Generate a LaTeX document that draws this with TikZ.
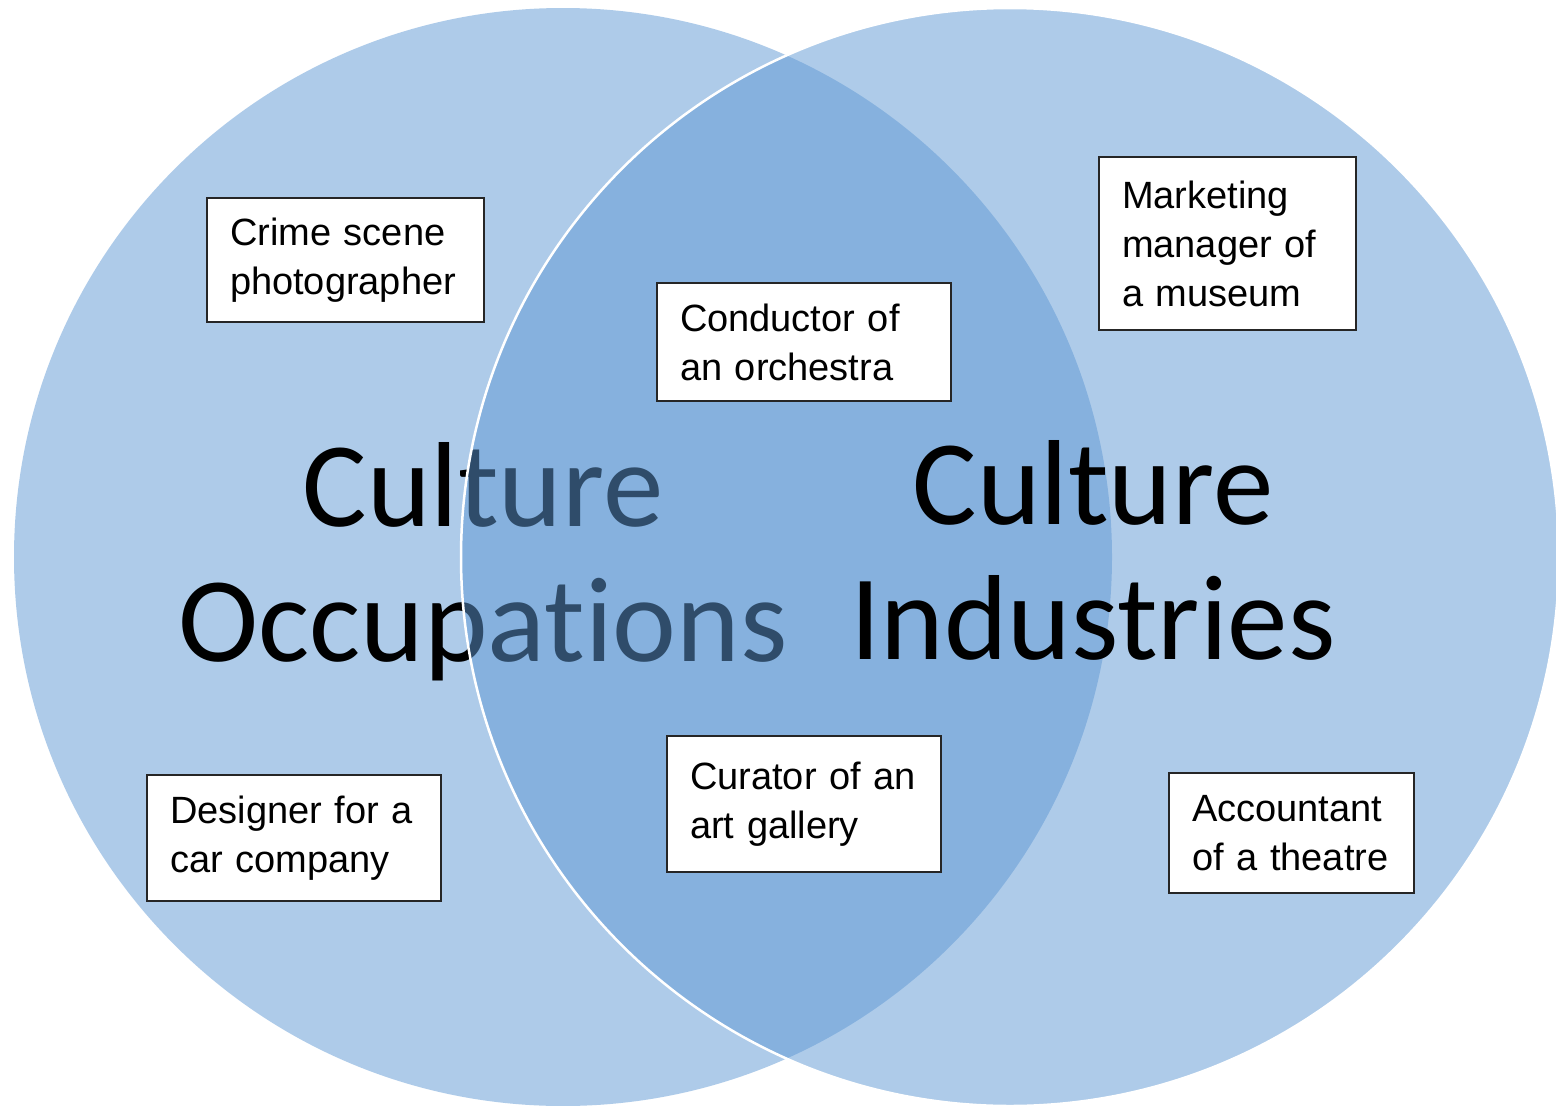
\documentclass[tikz,border=0pt]{standalone}
\usepackage{fontspec}
\newfontfamily\boxfont{Liberation Sans}
\newfontfamily\bigfont{Carlito}[RawFeature={-liga;-clig;-calt;-dlig}]
\definecolor{vennblue}{RGB}{95,153,213}
\begin{document}
\begin{tikzpicture}[x=1pt,y=-1pt,
  circ/.style={fill=vennblue, fill opacity=0.5},
  bigtext/.style={font=\bigfont\fontsize{121}{135}\selectfont, align=center, text=black, inner sep=0pt},
  jobbox/.style={draw=black!85, line width=1.3pt, fill=white, rectangle,
    font=\boxfont\fontsize{38}{49}\selectfont, align=left, inner xsep=23pt, inner ysep=0pt,
    text=black}
]
\clip (0,0) rectangle (1556,1106);
\fill[white] (0,0) rectangle (1556,1106);
% left circle
\path[circ] (563,557) circle[radius=549];
\node[bigtext] (occ) at (483,562) {Culture\\Occupat\kern0pt ions};
% right circle
\path[circ, draw=white, draw opacity=1, line width=2.5pt] (1010,557) circle[radius=549];
\node[bigtext] (ind) at (1093,550) {Culture\\Industries};
% boxes
\node[jobbox, text width=231pt, minimum height=124pt] (crime) at (345.5,260) {Crime scene\\photographer};
\node[jobbox, text width=248pt, minimum height=118pt] (cond) at (804,342) {Conductor of\\an orchestra};
\node[jobbox, text width=211pt, minimum height=173pt] (mark) at (1227.5,243.5) {Marketing\\manager of\\a museum};
\node[jobbox, text width=248pt, minimum height=126pt] (design) at (294,838) {Designer for a\\car company};
\node[jobbox, text width=228pt, minimum height=136pt] (cur) at (804,804) {Curator of an\\art gallery};
\node[jobbox, text width=199pt, minimum height=120pt] (acc) at (1291.5,833) {Accountant\\of a theatre};
\end{tikzpicture}
\end{document}
